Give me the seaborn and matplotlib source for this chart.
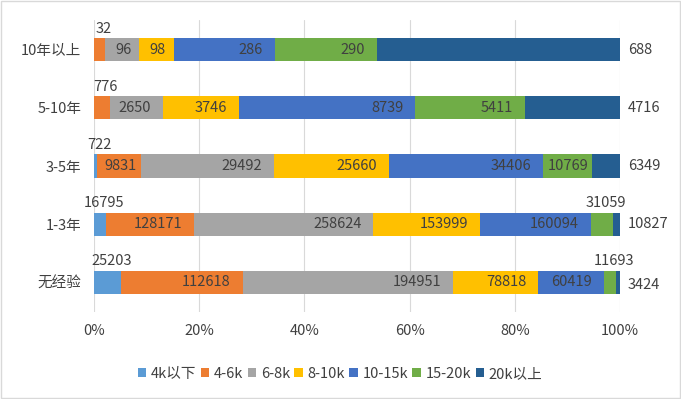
import numpy as np
import pandas as pd
import matplotlib
matplotlib.use("Agg")
import matplotlib.pyplot as plt
import seaborn as sns
from matplotlib.patches import Patch, Rectangle

# data
categories = ["10年以上", "5-10年", "3-5年", "1-3年", "无经验"]
series = ["4k以下", "4-6k", "6-8k", "8-10k", "10-15k", "15-20k", "20k以上"]
below_4k = [0, 0, 722, 16795, 25203]
k4_6 = [32, 776, 9831, 128171, 112618]
k6_8 = [96, 2650, 29492, 258624, 194951]
k8_10 = [98, 3746, 25660, 153999, 78818]
k10_15 = [286, 8739, 34406, 160094, 60419]
k15_20 = [290, 5411, 10769, 31059, 11693]
above_20k = [688, 4716, 6349, 10827, 3424]
colors = ["#5B9BD5", "#ED7D31", "#A5A5A5", "#FFC000", "#4472C4", "#70AD47", "#255E91"]

df = pd.DataFrame(np.array([below_4k, k4_6, k6_8, k8_10, k10_15, k15_20, above_20k]).T,
                  index=categories, columns=series)
share = df.div(df.sum(axis=1), axis=0)
cum = share.cumsum(axis=1)

sns.set_theme(style="white")
plt.rcParams["font.family"] = ["Noto Sans CJK SC", "DejaVu Sans"]
txt = "#404040"
fs = 10.5

fig = plt.figure(figsize=(6.81, 3.99), dpi=100)
ax = fig.add_axes([94 / 681, 1 - 311.6 / 399, 526 / 681, 291.2 / 399])

# stacked bars: draw cumulative totals from the right end backwards
for i in range(len(series) - 1, -1, -1):
    sns.barplot(x=cum[series[i]].values, y=categories, order=categories, orient="h",
                color=colors[i], saturation=1, width=0.4, errorbar=None,
                linewidth=0, ax=ax, zorder=3)

ax.set_xlim(0, 1)
ax.set_xticks(np.arange(0, 1.01, 0.2))
ax.set_xticklabels([f"{int(round(t * 100))}%" for t in np.arange(0, 1.01, 0.2)])
ax.xaxis.grid(True, color="#D9D9D9", linewidth=0.8, zorder=0)
ax.yaxis.grid(False)
ax.tick_params(axis="both", length=0, labelsize=fs, colors=txt)
ax.tick_params(axis="x", pad=9)
ax.tick_params(axis="y", pad=9)
ax.set_xlabel("")
ax.set_ylabel("")
for s in ax.spines.values():
    s.set_visible(False)

# data labels
px = 1 / 526
for r, cat in enumerate(categories):
    for i, name in enumerate(series):
        v = df.loc[cat, name]
        if v == 0:
            continue
        end = cum.loc[cat, name]
        start = end - share.loc[cat, name]
        width = share.loc[cat, name]
        kw = dict(fontsize=fs, color=txt, textcoords="offset pixels", zorder=5)
        if i == len(series) - 1:
            ax.annotate(str(v), xy=(1, r), xytext=(8, -3 if r == 4 else 0),
                        ha="left", va="center", **kw)
        elif width < 30 * px:
            ax.annotate(str(v), xy=((start + end) / 2, r), xytext=(4, 21),
                        ha="center", va="center", **kw)
        elif width < 50 * px:
            ax.annotate(str(v), xy=((start + end) / 2, r), xytext=(1, 0),
                        ha="center", va="center", **kw)
        else:
            ax.annotate(str(v), xy=(end, r), xytext=(-12, 0),
                        ha="right", va="center", **kw)

handles = [Patch(facecolor=c, edgecolor="none") for c in colors]
fig.legend(handles, series, loc="center", bbox_to_anchor=(340 / 681, 1 - 374 / 399),
           ncol=7, frameon=False, fontsize=fs, handlelength=0.6, handleheight=0.6,
           handletextpad=0.3, columnspacing=0.3, labelcolor=txt)

fig.patches.append(Rectangle((0.002, 0.003), 0.996, 0.994, transform=fig.transFigure,
                             fill=False, edgecolor="#D9D9D9", linewidth=1))

fig.savefig("out.png", dpi=100, facecolor="white")
